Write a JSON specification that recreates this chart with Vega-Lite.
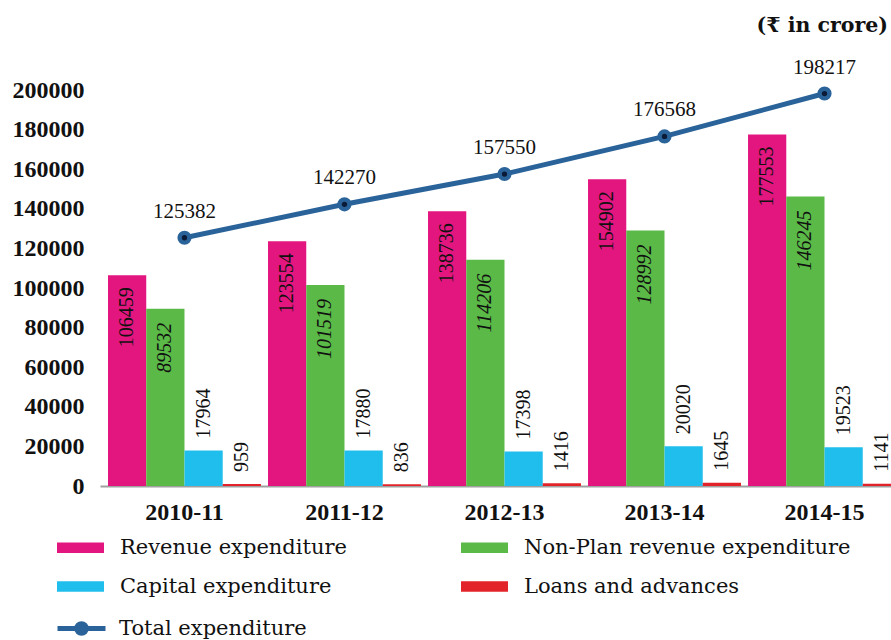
{
  "$schema": "https://vega.github.io/schema/vega-lite/v6.json",
  "width": 791,
  "height": 396,
  "autosize": {"type": "none"},
  "padding": {"left": 100, "top": 90, "right": 0, "bottom": 154},
  "background": "white",
  "config": {"view": {"stroke": null}, "font": "Liberation Serif"},
  "title": {
    "text": "(₹ in crore)",
    "anchor": "end",
    "frame": "group",
    "dx": -3,
    "offset": 20,
    "font": "DejaVu Serif",
    "fontSize": 20.5,
    "fontWeight": "bold",
    "color": "#111111"
  },
  "datasets": {
    "bars": [
      {"year": "2010-11", "series": "Revenue expenditure", "value": 106459},
      {"year": "2010-11", "series": "Non-Plan revenue expenditure", "value": 89532},
      {"year": "2010-11", "series": "Capital expenditure", "value": 17964},
      {"year": "2010-11", "series": "Loans and advances", "value": 959},
      {"year": "2011-12", "series": "Revenue expenditure", "value": 123554},
      {"year": "2011-12", "series": "Non-Plan revenue expenditure", "value": 101519},
      {"year": "2011-12", "series": "Capital expenditure", "value": 17880},
      {"year": "2011-12", "series": "Loans and advances", "value": 836},
      {"year": "2012-13", "series": "Revenue expenditure", "value": 138736},
      {"year": "2012-13", "series": "Non-Plan revenue expenditure", "value": 114206},
      {"year": "2012-13", "series": "Capital expenditure", "value": 17398},
      {"year": "2012-13", "series": "Loans and advances", "value": 1416},
      {"year": "2013-14", "series": "Revenue expenditure", "value": 154902},
      {"year": "2013-14", "series": "Non-Plan revenue expenditure", "value": 128992},
      {"year": "2013-14", "series": "Capital expenditure", "value": 20020},
      {"year": "2013-14", "series": "Loans and advances", "value": 1645},
      {"year": "2014-15", "series": "Revenue expenditure", "value": 177553},
      {"year": "2014-15", "series": "Non-Plan revenue expenditure", "value": 146245},
      {"year": "2014-15", "series": "Capital expenditure", "value": 19523},
      {"year": "2014-15", "series": "Loans and advances", "value": 1141}
    ],
    "totals": [
      {"year": "2010-11", "total": 125382},
      {"year": "2011-12", "total": 142270},
      {"year": "2012-13", "total": 157550},
      {"year": "2013-14", "total": 176568},
      {"year": "2014-15", "total": 198217}
    ]
  },
  "encoding": {
    "x": {
      "field": "year",
      "type": "nominal",
      "sort": null,
      "scale": {"range": [0, 809], "paddingInner": 0.044, "paddingOuter": 0.05},
      "axis": {
        "title": null,
        "labelAngle": 0,
        "labelFont": "Liberation Serif",
        "labelFontSize": 24,
        "labelFontWeight": "bold",
        "labelColor": "#111111",
        "labelPadding": 14,
        "ticks": false,
        "domainColor": "#A0A0A0",
        "domainWidth": 2
      }
    },
    "y": {
      "type": "quantitative",
      "scale": {"domain": [0, 200000], "nice": false},
      "axis": {
        "title": null,
        "values": [0, 20000, 40000, 60000, 80000, 100000, 120000, 140000, 160000, 180000, 200000],
        "format": "d",
        "domain": false,
        "ticks": false,
        "grid": false,
        "labelFont": "Liberation Serif",
        "labelFontSize": 24,
        "labelFontWeight": "bold",
        "labelColor": "#111111",
        "labelPadding": 16
      }
    }
  },
  "layer": [
    {
      "data": {"name": "bars"},
      "mark": {"type": "bar"},
      "encoding": {
        "y": {"field": "value"},
        "xOffset": {
          "field": "series",
          "type": "nominal",
          "scale": {
            "domain": ["Revenue expenditure", "Non-Plan revenue expenditure", "Capital expenditure", "Loans and advances"],
            "paddingInner": 0,
            "paddingOuter": 0
          }
        },
        "color": {
          "field": "series",
          "type": "nominal",
          "scale": {
            "domain": ["Revenue expenditure", "Non-Plan revenue expenditure", "Capital expenditure", "Loans and advances"],
            "range": ["#E3167F", "#5BB947", "#20BEEC", "#E3232A"]
          },
          "legend": {
            "orient": "none",
            "direction": "horizontal",
            "legendX": -43,
            "legendY": 434,
            "columns": 2,
            "title": null,
            "symbolType": "M-1,-0.22H1V0.22H-1Z",
            "symbolSize": 2209,
            "symbolStrokeWidth": 0,
            "symbolOpacity": 1,
            "labelFont": "DejaVu Serif",
            "labelFontSize": 21,
            "labelColor": "#111111",
            "labelOffset": 16,
            "labelLimit": 600,
            "columnPadding": 114,
            "rowPadding": 5
          }
        }
      }
    },
    {
      "data": {"name": "bars"},
      "transform": [{"filter": "datum.series === 'Revenue expenditure'"}],
      "mark": {"type": "text", "angle": 270, "align": "right", "baseline": "middle", "dx": -12, "fontSize": 20, "font": "Liberation Serif", "color": "#111111"},
      "encoding": {
        "y": {"field": "value"},
        "xOffset": {"field": "series", "type": "nominal"},
        "text": {"field": "value", "type": "quantitative", "format": "d"}
      }
    },
    {
      "data": {"name": "bars"},
      "transform": [{"filter": "datum.series === 'Non-Plan revenue expenditure'"}],
      "mark": {"type": "text", "angle": 270, "align": "right", "baseline": "middle", "dx": -14, "fontSize": 20, "fontStyle": "italic", "font": "Liberation Serif", "color": "#111111"},
      "encoding": {
        "y": {"field": "value"},
        "xOffset": {"field": "series", "type": "nominal"},
        "text": {"field": "value", "type": "quantitative", "format": "d"}
      }
    },
    {
      "data": {"name": "bars"},
      "transform": [{"filter": "datum.series === 'Capital expenditure' || datum.series === 'Loans and advances'"}],
      "mark": {"type": "text", "angle": 270, "align": "left", "baseline": "middle", "dx": 12, "fontSize": 20, "font": "Liberation Serif", "color": "#111111"},
      "encoding": {
        "y": {"field": "value"},
        "xOffset": {"field": "series", "type": "nominal"},
        "text": {"field": "value", "type": "quantitative", "format": "d"}
      }
    },
    {
      "data": {"name": "totals"},
      "mark": {"type": "line", "strokeWidth": 5},
      "encoding": {
        "y": {"field": "total"},
        "stroke": {
          "datum": "Total expenditure",
          "type": "nominal",
          "scale": {"range": ["#2A6399"]},
          "legend": {
            "orient": "none",
            "legendX": -45,
            "legendY": 512,
            "title": null,
            "symbolType": "M-1,0H1M0.2,0A0.2,0.2 0 1,1 -0.2,0A0.2,0.2 0 1,1 0.2,0Z",
            "symbolSize": 2304,
            "symbolStrokeWidth": 5,
            "symbolFillColor": "#0B1A36",
            "labelFont": "DejaVu Serif",
            "labelFontSize": 21,
            "labelColor": "#111111",
            "labelOffset": 11,
            "labelLimit": 600
          }
        }
      }
    },
    {
      "data": {"name": "totals"},
      "mark": {"type": "point", "filled": true, "size": 200, "color": "#2A6399", "opacity": 1},
      "encoding": {"y": {"field": "total"}}
    },
    {
      "data": {"name": "totals"},
      "mark": {"type": "point", "filled": true, "size": 28, "color": "#0B1A36", "opacity": 1},
      "encoding": {"y": {"field": "total"}}
    },
    {
      "data": {"name": "totals"},
      "mark": {"type": "text", "align": "center", "baseline": "alphabetic", "dy": -20, "fontSize": 21, "font": "Liberation Serif", "color": "#111111"},
      "encoding": {
        "y": {"field": "total"},
        "text": {"field": "total", "type": "quantitative", "format": "d"}
      }
    }
  ]
}
